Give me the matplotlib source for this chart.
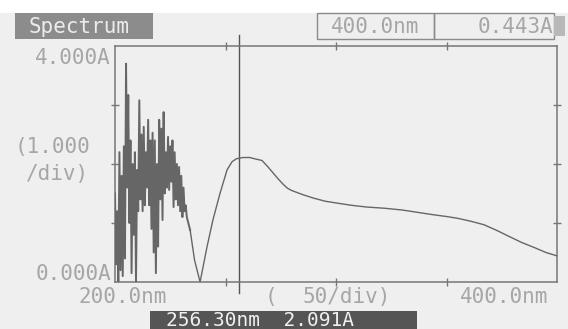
"""Spectrophotometer screen: absorbance spectrum 200-400 nm with cursor readout."""
import matplotlib as mpl
mpl.use("Agg")
import matplotlib.pyplot as plt
from matplotlib.patches import Rectangle

mpl.rcParams.update({
    "font.family": "DejaVu Sans Mono",
    "font.size": 15,
})

W, H = 568, 329
BG = "#efefef"
TXT = "#a6a6a6"
FRAME = "#767676"
LINE = "#666666"

# ── noisy region, 0.5 nm steps ──
noise_wl = [200.0 + 0.5 * i for i in range(66)]
noise_abs = [1.50, 0.30, 1.20, 0.00, 2.20, 0.20, 1.80, 0.10, 2.30, 0.40,
             3.70, 1.60, 3.17, 1.00, 2.40, 0.15, 2.00, 0.80, 2.20, 0.00,
             1.90, 1.20, 3.08, 1.40, 2.50, 1.20, 2.63, 1.30, 2.20, 1.60,
             2.75, 1.30, 2.40, 0.90, 2.53, 0.50, 2.40, 0.15, 2.00, 0.60,
             2.75, 1.40, 2.60, 1.05, 2.88, 1.50, 2.20, 1.60, 2.46, 1.56,
             2.30, 1.70, 2.40, 1.27, 2.20, 1.40, 2.00, 1.30, 1.95, 1.20,
             1.80, 1.10, 1.60, 1.20, 1.30, 1.10]

# ── smooth part of the spectrum ──
smooth_wl = [234.0, 236.0, 238.5, 241.6, 244.3, 247.5, 250.7, 253.0, 255.0,
             258.0, 261.0, 263.0, 266.5, 269.0, 271.5, 274.0, 276.0, 278.0,
             280.0, 285.0, 290.0, 295.0, 300.0, 307.0, 314.0, 322.0, 330.0,
             337.0, 344.0, 350.0, 355.0, 361.0, 367.0, 373.0, 379.0, 384.0,
             390.0, 395.0, 400.0]
smooth_abs = [0.88, 0.37, 0.00, 0.59, 1.05, 1.50, 1.90, 2.04, 2.09,
              2.11, 2.11, 2.09, 2.06, 1.96, 1.85, 1.74, 1.66, 1.59,
              1.55, 1.48, 1.42, 1.37, 1.34, 1.30, 1.27, 1.25, 1.22,
              1.18, 1.14, 1.11, 1.08, 1.03, 0.97, 0.87, 0.76, 0.67,
              0.58, 0.50, 0.443]

wl = noise_wl + smooth_wl
ab = noise_abs + smooth_abs

cursor_wl = 256.3
cursor_label = "256.30nm  2.091A"
end_wl_label = "400.0nm"
end_abs_label = "0.443A"


def fx(x):
    return x / W


def fy(y):
    return 1 - y / H


fig = plt.figure(figsize=(W / 100, H / 100), dpi=100, facecolor=BG)
# white strip above the screen
fig.patches.append(Rectangle((0, fy(13)), 1, 1 - fy(13), transform=fig.transFigure,
                             facecolor="white", edgecolor="none", zorder=0))

ax = fig.add_axes([fx(115), fy(282), fx(557) - fx(115), fy(46) - fy(282)])
ax.set_facecolor("none")
ax.plot(noise_wl + smooth_wl[:1], noise_abs + smooth_abs[:1], color=LINE, lw=1.4, zorder=3)
ax.plot(wl[len(noise_wl):], ab[len(noise_wl):], color=LINE, lw=1.0, zorder=3)
ax.set_xlim(200, 400)
ax.set_ylim(0, 4)
ax.set_xticks([250, 300, 350])
ax.set_yticks([1, 2, 3])
ax.tick_params(direction="inout", length=6, width=1, color=FRAME,
               top=True, right=True, labelbottom=False, labelleft=False)
for sp in ax.spines.values():
    sp.set_color(FRAME)
    sp.set_linewidth(1.1)

# cursor line reaching past the frame
ax.axvline(cursor_wl, ymin=-0.047, ymax=1.047, color="#555555", lw=1.0, clip_on=False)

# ── screen texts ──
def t(x, y, s, ha="left", color=TXT, **kw):
    fig.text(fx(x), fy(y), s, ha=ha, va="center", color=color, **kw)

t(111, 58, "4.000A", ha="right")
t(111, 274, "0.000A", ha="right")
t(15, 147, "(1.000")
t(26, 174, "/div)")
t(79, 297, "200.0nm")
t(265, 297, "(")
t(302, 297, "50/div)")
t(460, 297, "400.0nm")

# Spectrum tab
fig.patches.append(Rectangle((fx(15), fy(39)), fx(153) - fx(15), fy(13) - fy(39),
                             transform=fig.transFigure, facecolor="#8c8c8c", edgecolor="none"))
t(29, 27, "Spectrum", color="#ececec")

# readout boxes top right
for x0, x1 in [(317, 434), (434, 554)]:
    fig.patches.append(Rectangle((fx(x0), fy(39)), fx(x1) - fx(x0), fy(13) - fy(39),
                                 transform=fig.transFigure, facecolor="none",
                                 edgecolor="#8a8a8a", lw=1.0))
t(331, 27, end_wl_label)
t(553, 27, end_abs_label, ha="right")
fig.patches.append(Rectangle((fx(554), fy(36)), fx(565) - fx(554), fy(16) - fy(36),
                             transform=fig.transFigure, facecolor="#b8b8b8", edgecolor="none"))

# cursor readout bar at the bottom
fig.patches.append(Rectangle((fx(150), 0), fx(417) - fx(150), fy(311),
                             transform=fig.transFigure, facecolor="#555555", edgecolor="none"))
t(166, 320, cursor_label, color="#f0f0f0", fontsize=14)

fig.savefig("out.png", dpi=100, facecolor=BG)
plt.close(fig)
